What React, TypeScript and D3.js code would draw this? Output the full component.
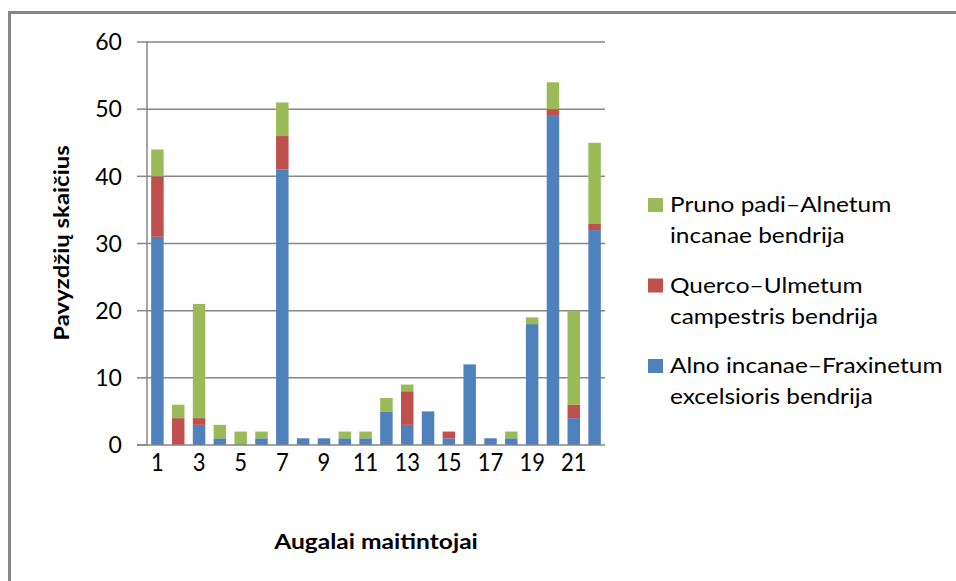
import React from "react";
import * as d3 from "d3";

const categories = Array.from({ length: 22 }, (_, i) => String(i + 1));
const alno = [31, 0, 3, 1, 0, 1, 41, 1, 1, 1, 1, 5, 3, 5, 1, 12, 1, 1, 18, 49, 4, 32];
const querco = [9, 4, 1, 0, 0, 0, 5, 0, 0, 0, 0, 0, 5, 0, 1, 0, 0, 0, 0, 1, 2, 1];
const pruno = [4, 2, 17, 2, 2, 1, 5, 0, 0, 1, 1, 2, 1, 0, 0, 0, 0, 1, 1, 4, 14, 12];
const yTicks = [0, 10, 20, 30, 40, 50, 60];
const xTickLabels = ["1", "3", "5", "7", "9", "11", "13", "15", "17", "19", "21"];

const seriesKeys = ["alno", "querco", "pruno"];
const seriesColors: Record<string, string> = { alno: "#4F81BD", querco: "#C0504D", pruno: "#9BBB59" };
const legendItems = [
  { key: "pruno", lines: ["Pruno padi\u2013Alnetum", "incanae bendrija"] },
  { key: "querco", lines: ["Querco\u2013Ulmetum", "campestris bendrija"] },
  { key: "alno", lines: ["Alno incanae\u2013Fraxinetum", "excelsioris bendrija"] },
];

const FONT = "Lato, 'Open Sans', sans-serif";

export default function App() {
  const W = 956, H = 581;
  const rows = categories.map((c, i) => ({ cat: c, alno: alno[i], querco: querco[i], pruno: pruno[i] }));
  const stack = d3.stack<any>().keys(seriesKeys)(rows);
  const x = d3.scaleBand().domain(categories).range([147, 605]).paddingInner(0.4).paddingOuter(0.2);
  const y = d3.scaleLinear().domain([0, 60]).range([445, 42]);
  const grid = "#868686";

  return (
    <svg width={W} height={H} style={{ position: "absolute", left: 0, top: 0, background: "#fff" }}>
      <rect x={0} y={0} width={W} height={H} fill="#fff" />
      {/* outer frame */}
      <line x1={9.5} y1={12.5} x2={W} y2={12.5} stroke="#878787" strokeWidth={3} />
      <line x1={9.5} y1={11} x2={9.5} y2={H} stroke="#878787" strokeWidth={3} />

      {/* gridlines */}
      {yTicks.map((t) => (
        <g key={t}>
          {t > 0 && <line x1={147} x2={605} y1={y(t)} y2={y(t)} stroke={grid} strokeWidth={1.5} />}
          <line x1={137} x2={147} y1={y(t)} y2={y(t)} stroke={grid} strokeWidth={1.5} />
          <text transform={`translate(122,${y(t)}) scale(1.05,1.05)`} dy="0.36em" textAnchor="end" fontFamily={FONT} fontSize={22} fill="#000">
            {t}
          </text>
        </g>
      ))}

      {/* bars */}
      {stack.map((s) => (
        <g key={s.key} fill={seriesColors[s.key]}>
          {s.map((d: any, i: number) =>
            d[1] - d[0] > 0 ? (
              <rect key={i} x={x(categories[i])} width={x.bandwidth()} y={y(d[1])} height={y(d[0]) - y(d[1])} />
            ) : null
          )}
        </g>
      ))}

      {/* axes lines */}
      <line x1={147} x2={147} y1={y(60)} y2={y(0)} stroke={grid} strokeWidth={1.5} />
      <line x1={137} x2={605} y1={y(0)} y2={y(0)} stroke={grid} strokeWidth={1.5} />

      {/* x tick labels */}
      {xTickLabels.map((l) => (
        <text key={l} transform={`translate(${(x(l) as number) + x.bandwidth() / 2},471) scale(1,1.1)`} textAnchor="middle" fontFamily={FONT} fontSize={22} fill="#000">
          {l}
        </text>
      ))}

      {/* axis titles */}
      <text transform="translate(376,549) scale(1.17,1)" textAnchor="middle" fontFamily={FONT} fontSize={21} fontWeight="bold" fill="#000">
        Augalai maitintojai
      </text>
      <text transform="translate(69,243) rotate(-90) scale(1.14,1)" textAnchor="middle" fontFamily={FONT} fontSize={21} fontWeight="bold" fill="#000">
        Pavyzdžių skaičius
      </text>

      {/* legend */}
      {legendItems.map((it, i) => {
        const top = 198 + i * 80.5;
        return (
          <g key={it.key}>
            <rect x={648} y={top} width={15} height={14} fill={seriesColors[it.key]} />
            {it.lines.map((ln, j) => (
              <text key={j} transform={`translate(670,${top + 14 + j * 31}) scale(1.11,1)`} fontFamily={FONT} fontSize={22} fill="#000">
                {ln}
              </text>
            ))}
          </g>
        );
      })}
    </svg>
  );
}
